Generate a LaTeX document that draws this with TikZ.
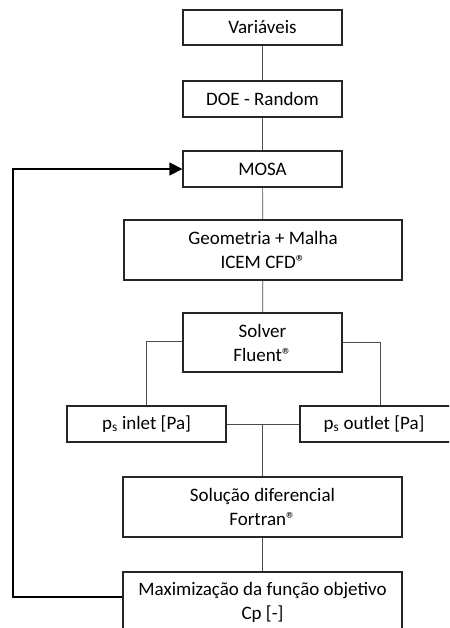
\documentclass[tikz,border=0pt]{standalone}
\usepackage{fontspec}
\setmainfont{Carlito}
\usetikzlibrary{arrows.meta,calc}
\newcommand{\regmark}{®}
\begin{document}
\begin{tikzpicture}[x=1pt,y=-1pt,
  box/.style={draw=black!85,line width=1.3pt,minimum width=#1,inner sep=0pt,align=center,font=\fontsize{19}{24}\selectfont},
  link/.style={draw=black!70,line width=0.7pt},
  back/.style={draw=black,line width=1.3pt}]
\useasboundingbox (0,0) rectangle (449,628);
\clip (0,0) rectangle (449,628);
\node[box=159pt,minimum height=35pt] (var) at (262.5,27.5) {Variáveis};
\node[box=159pt,minimum height=36pt] (doe) at (262.5,99) {DOE - Random};
\node[box=159pt,minimum height=36pt] (mosa) at (262.5,169) {MOSA};
\node[box=278pt,minimum height=60pt] (geo) at (263,250) {Geometria + Malha\\ICEM CFD\regmark};
\node[box=159pt,minimum height=59pt] (solver) at (262.5,342.5) {Solver\\Fluent\regmark};
\node[box=159pt,minimum height=36pt] (inlet) at (146.5,424) {p\textsubscript{s} inlet [Pa]};
\node[box=160pt,minimum height=36pt] (outlet) at (380,424) {\hspace*{-12pt}p\textsubscript{s} outlet [Pa]};
\node[box=279pt,minimum height=60pt] (sol) at (262.5,507) {Solução diferencial\\Fortran\regmark};
\node[box=279pt,minimum height=60pt] (max) at (262.5,602) {Maximização da função objetivo\\Cp [-]};
\coordinate (j) at (sol.north |- inlet.east);
\coordinate (fb) at ($(max.west)+(0,-5)$);
\coordinate (corner) at (13,0);
\draw[link] (var) -- (doe);
\draw[link] (doe) -- (mosa);
\draw[link] (mosa) -- (geo);
\draw[link] (geo) -- (solver);
\draw[link] ($(solver.west)+(0,-1)$) -| (inlet.north);
\draw[link] (solver.east) -| (outlet.north);
\draw[link] (inlet.east) -- (outlet.west);
\draw[link] (j) -- (sol.north);
\draw[link] (sol) -- (max);
\draw[back,-{Triangle[length=13pt,width=13pt]}] (fb) -| (corner |- mosa.west) -- (mosa.west);
\end{tikzpicture}
\end{document}
